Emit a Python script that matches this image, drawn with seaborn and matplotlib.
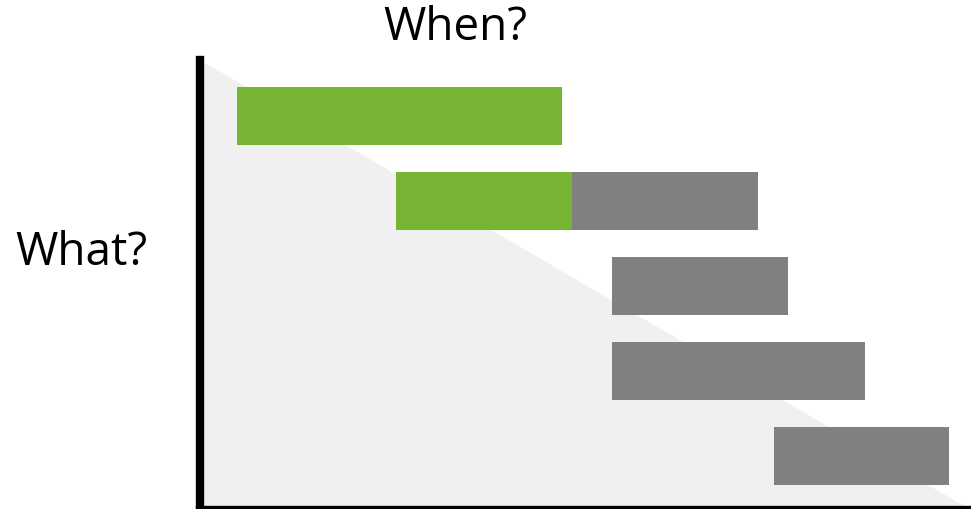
import numpy as np
import pandas as pd
import matplotlib
matplotlib.use('Agg')
import matplotlib.pyplot as plt
import seaborn as sns

# tasks, top to bottom; x in percent of the time axis
tasks = ['A', 'B', 'C', 'D', 'E']
done_start = [4.8, 25.4, None, None, None]
done_end = [47.0, 48.2, None, None, None]
todo_start = [None, 48.2, 53.4, 53.4, 74.4]
todo_end = [None, 72.4, 76.3, 86.3, 97.1]

green = '#78b433'
grey = '#808080'

sns.set_style('white')
plt.rcParams['font.family'] = ['Open Sans', 'DejaVu Sans']

fig = plt.figure(figsize=(9.71, 5.09), dpi=100)
ax = fig.add_axes([200 / 971, -1 / 509, 771 / 971, 450 / 509])

# light triangle behind the bars
ax.fill([0, 0, 1], [1, 0, 0], color='#f0f0f0', transform=ax.transAxes, zorder=0, lw=0)

ypos = np.arange(len(tasks))
for i in range(len(tasks)):
    if done_start[i] is not None:
        ax.barh(ypos[i], done_end[i] - done_start[i], left=done_start[i],
                height=0.68, color=green, linewidth=0, zorder=2)
    if todo_start[i] is not None:
        ax.barh(ypos[i], todo_end[i] - todo_start[i], left=todo_start[i],
                height=0.68, color=grey, linewidth=0, zorder=2)

ax.set_xlim(0, 100)
ax.set_ylim(4.63, -0.66)
ax.set_xticks([])
ax.set_yticks([])
ax.set_facecolor('none')

for side in ['top', 'right']:
    ax.spines[side].set_visible(False)
for side in ['left', 'bottom']:
    ax.spines[side].set_visible(True)
    ax.spines[side].set_color('black')
    ax.spines[side].set_linewidth(6)

fig.text(455 / 971, 1 - 28 / 509, 'When?', fontsize=33, color='black', ha='center', va='center')
fig.text(81 / 971, 1 - 253 / 509, 'What?', fontsize=33, color='black', ha='center', va='center')

fig.savefig('out.png', dpi=100, facecolor='white')
